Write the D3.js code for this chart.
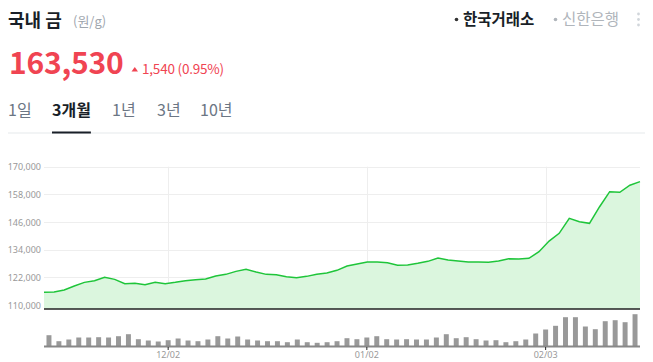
<!DOCTYPE html>
<meta charset="utf-8">
<head>
  <title>국내 금</title>
</head>
<style>
body {
  margin: 0;
  background: #fff;
  font-family: "Noto Sans CJK KR", "Noto Sans", sans-serif;
}
svg text { font-family: "Noto Sans CJK KR", "Noto Sans", sans-serif; }
.axis-y text, .axis-x text { font-family: "Noto Sans", sans-serif; }
</style>
<body>
<svg width=653 height=362></svg>
<script src="https://cdnjs.cloudflare.com/ajax/libs/d3/7.8.5/d3.min.js"></script>
<script>
var dates = [
  "11/14","11/15","11/18","11/19","11/20","11/21","11/22","11/25","11/26","11/27","11/28","11/29",
  "12/02","12/03","12/04","12/05","12/06","12/09","12/10","12/11","12/12","12/13","12/16","12/17",
  "12/18","12/19","12/20","12/23","12/24","12/26","12/27","12/30",
  "01/02","01/03","01/06","01/07","01/08","01/09","01/10","01/13","01/14","01/15","01/16","01/17",
  "01/20","01/21","01/22","01/23","01/24","01/31",
  "02/03","02/04","02/05","02/06","02/07","02/10","02/11","02/12","02/13","02/14"
];
var prices = [
  115510, 115650, 116510, 118250, 119850, 120550, 122020, 121150, 119250, 119420,
  118810, 119850, 119250, 119850, 120550, 120980, 121280, 122590, 123320, 124620,
  125490, 124320, 123320, 123150, 122280, 121850, 122450, 123320, 123890, 125060,
  126920, 127790, 128660, 128660, 128360, 127230, 127360, 128100, 128960, 130390,
  129530, 129090, 128660, 128660, 128530, 129090, 130090, 129960, 130260, 133130,
  137770, 141110, 147620, 146140, 145450, 152650, 159160, 158900, 161990, 163530
];
var volumes = [
  113, 53, 70, 90, 90, 93, 90, 103, 123, 73,
  60, 50, 63, 80, 60, 53, 70, 103, 80, 100,
  70, 60, 53, 53, 43, 70, 43, 37, 43, 53,
  83, 73, 90, 103, 73, 70, 73, 70, 70, 90,
  123, 83, 93, 73, 60, 63, 43, 53, 70, 130,
  170, 207, 293, 293, 200, 173, 253, 263, 243, 323
];
var yTicks = [110000, 122000, 134000, 146000, 158000, 170000];
var xTicks = ["12/02", "01/02", "02/03"];

var svg = d3.select('svg');
var red = '#f04452';

// header
var head = svg.append('g');
head.append('text').attr('x', 8).attr('y', 27)
  .attr('font-size', 18).attr('font-weight', 'bold').attr('fill', '#191f28')
  .text('국내 금');
head.append('text').attr('x', 73).attr('y', 26)
  .attr('font-size', 13).attr('fill', '#a0a6ae')
  .text('(원/g)');
head.append('text').attr('x', 9).attr('y', 74)
  .attr('font-size', 30).attr('font-weight', 'bold').attr('fill', red)
  .attr('font-family', '"Noto Sans", sans-serif')
  .attr('letter-spacing', -0.2)
  .text('163,530');
head.append('path').attr('d', 'M131.5,71.5 L134.8,67 L138,71.5 Z').attr('fill', red);
head.append('text').attr('x', 142).attr('y', 74)
  .attr('font-size', 13.5).attr('fill', red)
  .attr('font-family', '"Noto Sans", sans-serif')
  .attr('letter-spacing', -0.2)
  .text('1,540 (0.95%)');

head.append('circle').attr('cx', 456.5).attr('cy', 19.5).attr('r', 1.8).attr('fill', '#333');
head.append('text').attr('x', 463).attr('y', 25)
  .attr('font-size', 15.5).attr('font-weight', 'bold').attr('fill', '#191f28')
  .text('한국거래소');
head.append('circle').attr('cx', 555.5).attr('cy', 19.5).attr('r', 1.8).attr('fill', '#b0b5bb');
head.append('text').attr('x', 562).attr('y', 25)
  .attr('font-size', 15.5).attr('fill', '#b0b5bb')
  .text('신한은행');
[14, 19.5, 25].forEach(function(cy) {
  head.append('circle').attr('cx', 638.5).attr('cy', cy).attr('r', 1.4).attr('fill', '#d1d6db');
});

// period tabs
var tabs = [
  {label: '1일', x: 8},
  {label: '3개월', x: 52, on: true},
  {label: '1년', x: 112},
  {label: '3년', x: 157},
  {label: '10년', x: 200}
];
svg.append('line').attr('x1', 8).attr('x2', 645).attr('y1', 133).attr('y2', 133)
  .attr('stroke', '#eef0f2').attr('stroke-width', 1.5);
tabs.forEach(function(t) {
  var el = svg.append('text').attr('x', t.x).attr('y', 116)
    .attr('font-size', 16)
    .attr('font-weight', t.on ? 'bold' : 'normal')
    .attr('fill', t.on ? '#191f28' : '#6b7684')
    .text(t.label);
  if (t.on) {
    var w = el.node().getComputedTextLength();
    svg.append('line').attr('x1', t.x).attr('x2', t.x + w).attr('y1', 132.5).attr('y2', 132.5)
      .attr('stroke', '#191f28').attr('stroke-width', 2);
  }
});

// chart scales
var left = 44, right = 640;
var xLine = d3.scalePoint().domain(dates).range([left, right]);
var xBand = d3.scaleBand().domain(dates).range([left, right]).paddingInner(0.5).paddingOuter(0.25);
var y = d3.scaleLinear().domain([108300, 170000]).range([309, 166.7]);
var yVol = d3.scaleLinear().domain([0, 340]).range([346.5, 312.5]);

// grid
svg.append('g').selectAll('line').data(yTicks).enter().append('line')
  .attr('x1', left).attr('x2', right)
  .attr('y1', function(d) { return Math.round(y(d)) + 0.5; })
  .attr('y2', function(d) { return Math.round(y(d)) + 0.5; })
  .attr('stroke', '#eeeeee');
svg.append('g').selectAll('line').data(xTicks).enter().append('line')
  .attr('x1', function(d) { return Math.round(xBand(d) + xBand.bandwidth() / 2) + 0.5; })
  .attr('x2', function(d) { return Math.round(xBand(d) + xBand.bandwidth() / 2) + 0.5; })
  .attr('y1', y(170000)).attr('y2', y(110000))
  .attr('stroke', '#eeeeee');

// area + line
var area = d3.area()
  .x(function(d, i) { return xLine(dates[i]); })
  .y0(y(108300))
  .y1(function(d) { return y(d); });
var line = d3.line()
  .x(function(d, i) { return xLine(dates[i]); })
  .y(function(d) { return y(d); });
svg.append('path').datum(prices).attr('d', area).attr('fill', '#d9f6dc').attr('opacity', 0.95);
svg.append('path').datum(prices).attr('d', line)
  .attr('fill', 'none').attr('stroke', '#1fc53a').attr('stroke-width', 1.5);

// y axis labels
var yAxis = svg.append('g').attr('class', 'axis-y')
  .attr('transform', 'translate(41,0)')
  .call(d3.axisLeft(y).tickValues(yTicks).tickSize(0).tickPadding(0).tickFormat(d3.format(',')));
yAxis.select('.domain').remove();
yAxis.selectAll('text').attr('font-size', 9).attr('fill', '#999').attr('dy', '0.35em');

svg.append('line').attr('x1', left).attr('x2', right).attr('y1', 309).attr('y2', 309)
  .attr('stroke', '#222').attr('stroke-width', 1.5);

// volume bars
svg.append('g').selectAll('rect').data(volumes).enter().append('rect')
  .attr('x', function(d, i) { return xBand(dates[i]); })
  .attr('width', xBand.bandwidth())
  .attr('y', function(d) { return yVol(d); })
  .attr('height', function(d) { return yVol(0) - yVol(d); })
  .attr('fill', '#999');

svg.append('line').attr('x1', left).attr('x2', right).attr('y1', 346.5).attr('y2', 346.5)
  .attr('stroke', '#888').attr('stroke-width', 2);

// x axis
var xAxis = svg.append('g').attr('class', 'axis-x')
  .attr('transform', 'translate(0,347)')
  .call(d3.axisBottom(xBand).tickValues(xTicks).tickSize(3).tickPadding(2));
xAxis.select('.domain').remove();
xAxis.selectAll('line').attr('stroke', '#222');
xAxis.selectAll('text').attr('font-size', 9).attr('fill', '#999');
</script>
</body>
</html>
